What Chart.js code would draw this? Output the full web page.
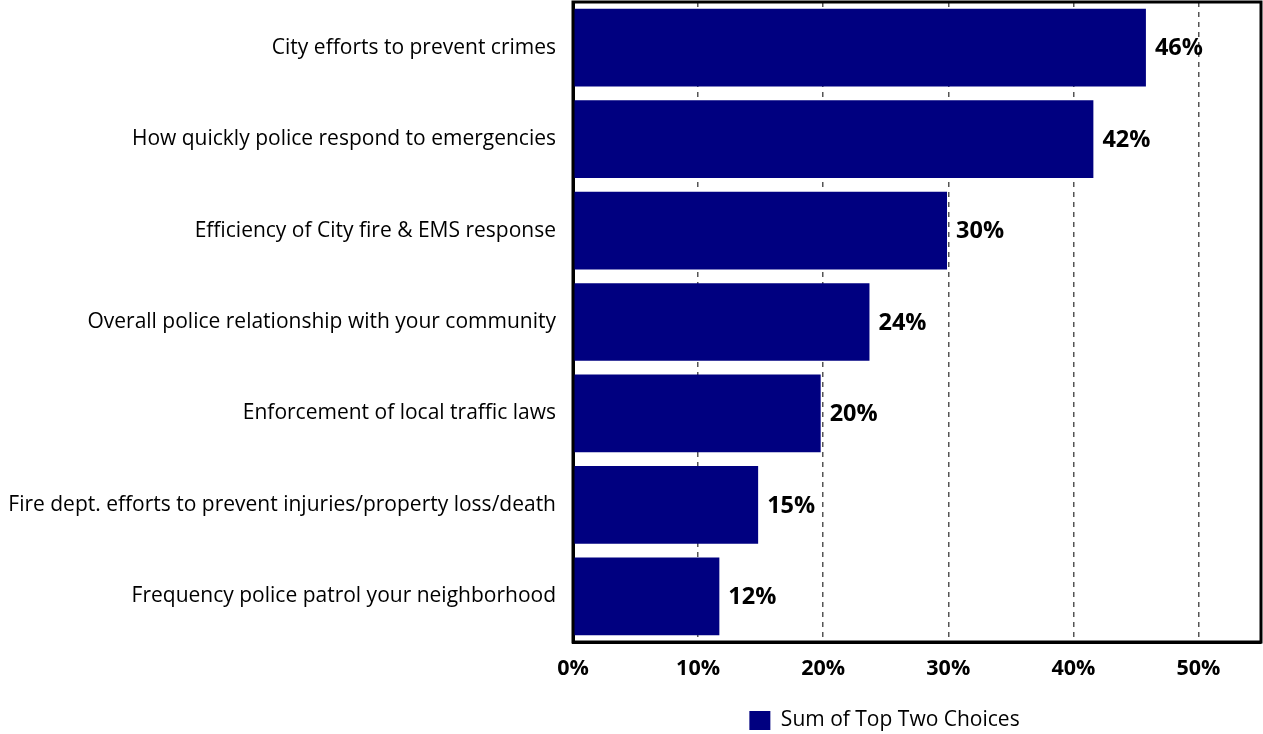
<!DOCTYPE html>
<html>
<head>
<meta charset="utf-8">
<script src="https://cdn.jsdelivr.net/npm/chart.js@4.4.1/dist/chart.umd.min.js"></script>
<style>
  html, body { margin: 0; padding: 0; background: #fff; }
  #wrap { width: 1263px; height: 734px; position: relative; }
</style>
</head>
<body>
<div id="wrap"><canvas id="c"></canvas></div>
<script>
const categories = [
  "City efforts to prevent crimes",
  "How quickly police respond to emergencies",
  "Efficiency of City fire & EMS response",
  "Overall police relationship with your community",
  "Enforcement of local traffic laws",
  "Fire dept. efforts to prevent injuries/property loss/death",
  "Frequency police patrol your neighborhood"
];
const seriesName = "Sum of Top Two Choices";
const values = [45.8, 41.6, 29.9, 23.7, 19.8, 14.8, 11.7];
const tickValues = [0, 10, 20, 30, 40, 50];

const FONT = "'Open Sans', 'Noto Sans', sans-serif";

const frame = {
  id: 'frame',
  beforeDraw(chart) {
    if (chart.legend) { chart.legend.left = 508; }
  },
  afterDraw(chart) {
    const a = chart.chartArea, ctx = chart.ctx;
    ctx.save();
    ctx.strokeStyle = '#000';
    ctx.lineWidth = 3;
    ctx.strokeRect(a.left, a.top, a.right - a.left, a.bottom - a.top);
    ctx.restore();
  }
};
const valueLabels = {
  id: 'valueLabels',
  afterDatasetsDraw(chart) {
    const ctx = chart.ctx;
    const meta = chart.getDatasetMeta(0);
    ctx.save();
    ctx.font = "bold 23.5px " + FONT;
    ctx.fillStyle = '#000';
    ctx.textAlign = 'left';
    ctx.textBaseline = 'middle';
    meta.data.forEach((bar, i) => {
      ctx.fillText(Math.round(values[i]) + '%', bar.x + 9, bar.y + 1);
    });
    ctx.restore();
  }
};

new Chart(document.getElementById('c'), {
  type: 'bar',
  data: {
    labels: categories,
    datasets: [{
      label: seriesName,
      data: values,
      backgroundColor: '#000080',
      borderWidth: 0,
      barPercentage: 0.85,
      categoryPercentage: 1.0
    }]
  },
  options: {
    indexAxis: 'y',
    responsive: true,
    maintainAspectRatio: false,
    animation: false,
    layout: { padding: { left: 0, right: 2, top: 2, bottom: -7 } },
    plugins: {
      legend: {
        position: 'bottom',
        labels: {
          boxWidth: 21, boxHeight: 19,
          color: '#000',
          padding: 5,
          font: { family: FONT, size: 21 }
        }
      },
      tooltip: { enabled: false }
    },
    scales: {
      x: {
        min: 0, max: 55,
        afterBuildTicks(scale) { scale.ticks = tickValues.map(v => ({ value: v })); },
        afterFit(scale) { scale.height = 63; },
        grid: { color: '#555', lineWidth: 1.5, drawTicks: false },
        border: { display: true, color: '#000', width: 3, dash: [5, 5] },
        ticks: {
          padding: 14,
          color: '#000',
          font: { family: FONT, size: 21.5, weight: 'bold' },
          callback: v => v + '%'
        }
      },
      y: {
        afterFit(scale) { scale.width = 573; scale.paddingTop = 0; scale.paddingBottom = 0; },
        grid: { display: false, drawTicks: false },
        border: { display: true, color: '#000', width: 3 },
        ticks: {
          padding: 17,
          color: '#000',
          font: { family: FONT, size: 21 }
        }
      }
    }
  },
  plugins: [frame, valueLabels]
});
</script>
</body>
</html>
